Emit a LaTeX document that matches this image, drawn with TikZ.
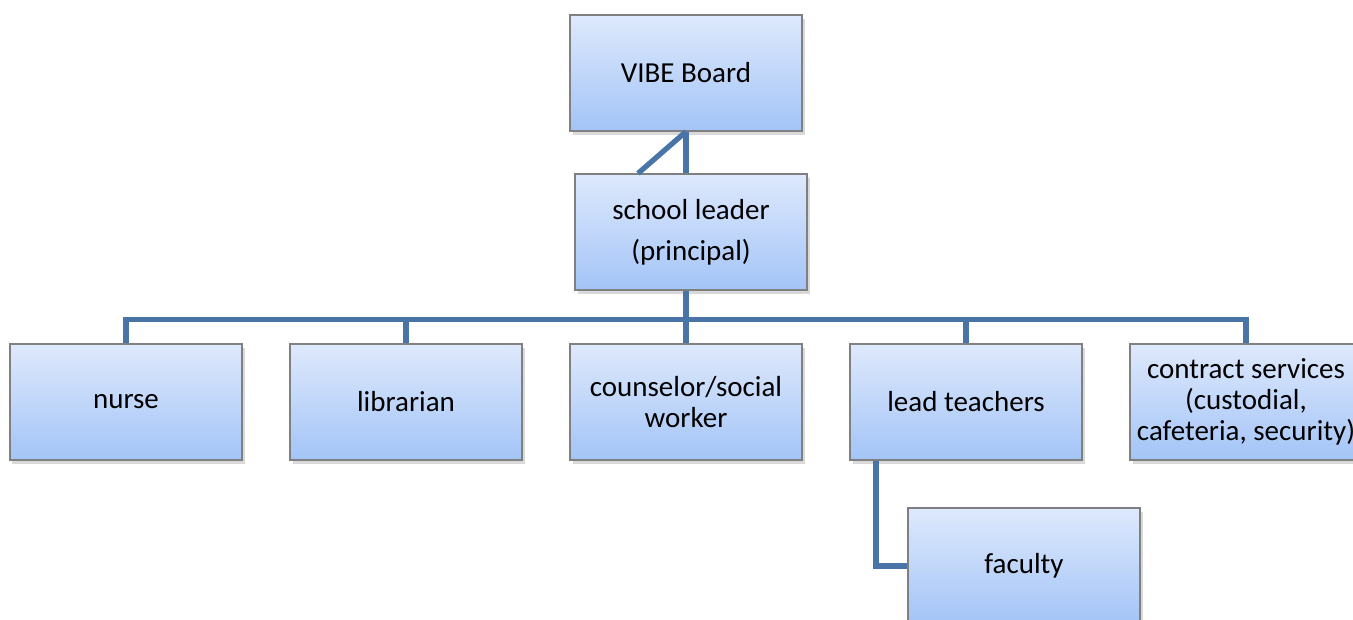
\documentclass[tikz,border=0pt]{standalone}
\usepackage{fontspec}
\setmainfont{Carlito}
\usetikzlibrary{shadows}
\definecolor{boxtop}{RGB}{222,233,252}
\definecolor{boxbottom}{RGB}{163,196,247}
\definecolor{boxline}{RGB}{128,128,128}
\definecolor{linkblue}{RGB}{72,116,168}
\tikzstyle{orgnode} = [rectangle,
minimum width=4.64cm,
minimum height=2.32cm,
text width=4.2cm,
align=flush center,
font=\fontsize{16.5}{17.5}\selectfont,
draw=boxline, line width=0.7pt,
top color=boxtop, bottom color=boxbottom,
drop shadow={shadow xshift=0.05cm, shadow yshift=-0.07cm, opacity=0.3}]
\tikzstyle{link} = [line width=3pt, draw=linkblue]

\begin{document}
\begin{tikzpicture}[node distance = 5.6cm]
\useasboundingbox (0,0) rectangle (27.06,-12.38);
\clip (0,0) rectangle (27.06,-12.38);

\node (board) [orgnode] at (13.72,-1.46) {VIBE Board};
\node (leader) [orgnode, below of=board, node distance=3.18cm, xshift=0.1cm] {school leader\\[0.2cm] (principal)};

\node (counselor) [orgnode, below of=leader, node distance=3.4cm, xshift=-0.1cm] {counselor/social\\ worker};
\node (librarian) [orgnode, left of=counselor] {librarian};
\node (nurse) [orgnode, left of=librarian] {nurse};
\node (lead) [orgnode, right of=counselor] {lead teachers};
\node (contract) [orgnode, right of=lead, text width=4.6cm, inner xsep=0pt] {contract services\\ (custodial,\\ cafeteria, security)};

\node (faculty) [orgnode, below of=lead, node distance=3.28cm, xshift=1.16cm] {faculty};

\coordinate (bus) at ([yshift=0.48cm]counselor.north);

\draw [link] (board.south) -- (board.south |- leader.north);
\draw [link] (board.south) -- ([xshift=-1.06cm]leader.north);

\draw [link] (leader.south -| counselor.north) -- (counselor.north);
\draw [link] (nurse.north) |- (bus) -| (contract.north);
\foreach \n in {librarian, lead}
  \draw [link] (\n.north) -- (\n.north |- bus);

\draw [link] ([xshift=-1.8cm]lead.south) |- (faculty.west);

\end{tikzpicture}
\end{document}
